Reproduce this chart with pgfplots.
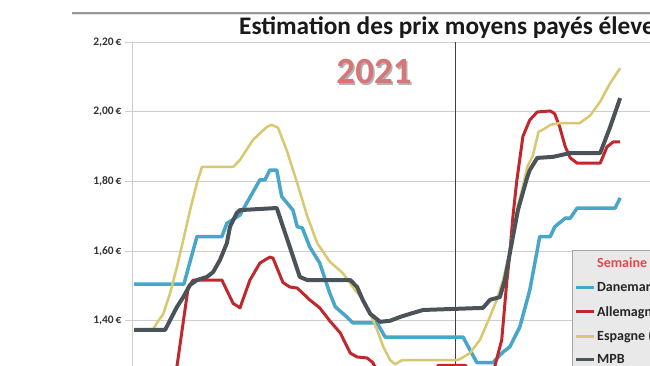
\documentclass[border=0pt]{standalone}
\usepackage{fontspec}
\setmainfont{Carlito}
\usepackage{pgfplots}
\pgfplotsset{compat=1.18}
\definecolor{dkblue}{RGB}{72,166,200}
\definecolor{dkred}{RGB}{192,40,45}
\definecolor{dkyellow}{RGB}{216,200,112}
\definecolor{mpbgray}{RGB}{74,84,88}
\definecolor{gridgray}{RGB}{205,205,205}
\definecolor{yr}{RGB}{214,118,120}
\definecolor{semred}{RGB}{228,70,75}
\definecolor{legfill}{RGB}{233,233,233}
\begin{document}
\begin{tikzpicture}[x=1pt,y=1pt]
\useasboundingbox (0,0) rectangle (650,366);
\clip (0,0) rectangle (650,366);
\fill[white] (0,0) rectangle (650,366);
\draw[black!40, line width=1.5pt] (72,353) -- (650,353);
\draw[black!12, line width=1.5pt] (72,351.5) -- (650,351.5);
\begin{axis}[
  at={(132pt,0pt)}, anchor=south west,
  scale only axis, width=518pt, height=323.6pt,
  xmin=0.679, xmax=83.79, ymin=1.27, ymax=2.20,
  axis x line=none, axis y line*=left,
  y axis line style={draw=gridgray, line width=1pt},
  ytick={1.4,1.6,1.8,2.0,2.2}, xtick=\empty,
  ymajorgrids, grid style={gridgray, line width=1pt},
  tick align=outside, major tick length=7pt,
  tick style={gridgray, line width=1pt},
  yticklabel={\pgfmathprintnumber[fixed,fixed zerofill,precision=2,use comma,assume math mode=true]{\tick}\,€},
  yticklabel style={font=\fontsize{11.5}{12}\selectfont\bfseries, text=black!80},
  legend style={at={(axis cs:71.27,1.6034)}, anchor=north west, fill=legfill, draw=black!35,
    font=\fontsize{14}{16}\selectfont\bfseries, text=black!85, row sep=8.5pt,
    inner xsep=2pt, inner ysep=5.5pt},
  legend cell align=left,
  legend image code/.code={\draw[#1, line width=3pt] (0pt,0pt) -- (18pt,0pt);},
  line join=round,
]
\addlegendimage{empty legend}
\addlegendentry{\textcolor{semred}{Semaine}}
\addplot[black!75, line width=0.8pt, forget plot] coordinates {(52.5,1.2) (52.5,2.25)};
% Danemark
\addplot[dkblue, line width=3.5pt] coordinates {
(1.0,1.505) (9.0,1.505) (11.1,1.642) (15.1,1.642) (15.9,1.680) (18.0,1.704)
(21.2,1.805) (22.0,1.805) (22.8,1.833) (23.9,1.833) (24.7,1.757) (26.5,1.718)
(27.2,1.670) (28.0,1.667) (29.2,1.612) (30.8,1.566) (32.4,1.480) (33.3,1.440)
(35.2,1.410) (36.1,1.394) (40.0,1.394) (41.3,1.353) (53.8,1.353) (56.0,1.280)
(58.6,1.280) (60.2,1.310) (61.3,1.325) (62.9,1.382) (64.5,1.488) (65.7,1.603)
(66.1,1.642) (67.8,1.642) (68.5,1.670) (70.2,1.695) (71.0,1.695) (72.1,1.724)
(78.2,1.724) (79.0,1.753)};
\addlegendentry{Danemark (Danish Crown)}
% Allemagne
\addplot[dkred, line width=3pt] coordinates {
(1.0,1.18) (6.0,1.18) (7.9,1.27) (9.7,1.497) (10.5,1.517) (15.1,1.517)
(16.9,1.450) (18.0,1.437) (19.6,1.517) (21.2,1.566) (22.8,1.583) (23.3,1.580)
(24.9,1.510) (26.0,1.497) (27.2,1.494) (29.2,1.460) (30.8,1.437) (32.4,1.400)
(34.1,1.365) (35.7,1.307) (36.8,1.296) (38.4,1.293) (39.3,1.280) (40.5,1.24)
(45.0,1.22) (49.0,1.24) (49.8,1.272) (54.1,1.272) (55.5,1.25) (57.5,1.24)
(58.9,1.270) (60.0,1.345) (60.8,1.510) (61.3,1.595) (61.8,1.700) (62.4,1.800)
(63.4,1.930) (64.5,1.977) (65.7,2.000) (67.8,2.003) (68.5,1.995) (69.3,1.957)
(70.2,1.900) (71.0,1.868) (72.1,1.853) (75.8,1.853) (76.9,1.900) (77.9,1.914)
(79.0,1.914)};
\addlegendentry{Allemagne (VEZG)}
% Espagne
\addplot[dkyellow, line width=2.5pt] coordinates {
(1.0,1.372) (3.6,1.372) (4.0,1.374) (4.7,1.394) (5.7,1.420) (6.8,1.480)
(7.9,1.555) (8.9,1.632) (10.0,1.718) (11.1,1.796) (11.9,1.842) (16.9,1.842)
(18.0,1.862) (20.1,1.920) (22.3,1.957) (23.1,1.963) (24.1,1.955) (25.5,1.890)
(27.2,1.795) (28.8,1.700) (30.4,1.623) (32.4,1.570) (34.5,1.537) (36.1,1.497)
(37.7,1.460) (38.9,1.420) (40.0,1.374) (41.0,1.325) (42.1,1.287) (42.9,1.275)
(44.0,1.287) (52.8,1.287) (53.3,1.290) (54.9,1.307) (56.5,1.345) (58.1,1.411)
(59.2,1.460) (60.2,1.517) (61.0,1.575) (61.8,1.652) (62.6,1.727) (64.1,1.842)
(65.0,1.875) (65.9,1.943) (66.7,1.950) (67.8,1.963) (69.3,1.968) (72.5,1.968)
(74.2,1.990) (75.8,2.030) (77.4,2.083) (79.0,2.126)};
\addlegendentry{Espagne (Mercolleida)}
% MPB
\addplot[mpbgray, line width=4pt] coordinates {
(1.0,1.374) (6.0,1.374) (6.8,1.402) (7.9,1.440) (8.9,1.468) (10.0,1.503)
(11.1,1.517) (12.7,1.526) (13.7,1.540) (14.8,1.575) (15.9,1.623) (16.4,1.670)
(17.5,1.710) (18.0,1.718) (23.9,1.724) (26.0,1.612) (27.6,1.526) (28.8,1.517)
(35.7,1.517) (36.8,1.497) (37.7,1.460) (38.9,1.420) (40.5,1.397) (42.1,1.400)
(43.7,1.411) (45.3,1.420) (47.4,1.431) (57.0,1.437) (58.1,1.460) (59.7,1.468)
(60.5,1.517) (61.6,1.623) (62.6,1.718) (64.1,1.813) (64.5,1.833) (65.7,1.868)
(68.2,1.871) (71.0,1.882) (75.8,1.882) (77.4,1.957) (79.0,2.040)};
\addlegendentry{MPB}
\end{axis}
\node[anchor=base west, font=\fontsize{25.3}{28}\selectfont\bfseries, text=black!90, inner sep=0pt] at (239,331) {Estimation des prix moyens payés éleveurs};
\node[font=\fontsize{37}{40}\selectfont\bfseries, text=black!30, inner sep=0pt] at (375.5,292.5) {2021};
\node[font=\fontsize{37}{40}\selectfont\bfseries, text=yr, inner sep=0pt] at (374,294) {2021};
\end{tikzpicture}
\end{document}
